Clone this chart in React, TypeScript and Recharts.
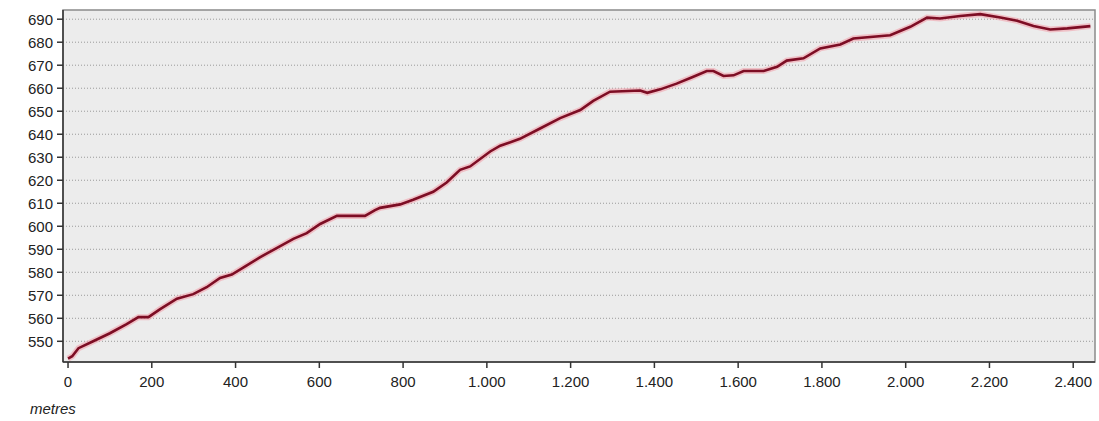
import { LineChart, Line, XAxis, YAxis, CartesianGrid, ReferenceArea } from "recharts";

const FONT = '"Liberation Sans", Arial, sans-serif';

// distance along the route (m) and elevation (m)
const DISTANCE = [
  0, 10, 25, 60, 100, 140, 168, 192, 220, 260, 299, 331, 363, 391, 427, 458, 498, 538, 570, 602,
  642, 709, 733, 745, 793, 824, 872, 904, 936, 960, 1008, 1032, 1079, 1127, 1175, 1223, 1254, 1294,
  1366, 1383, 1414, 1453, 1493, 1525, 1541, 1565, 1589, 1613, 1661, 1693, 1716, 1756, 1796, 1844,
  1875, 1963, 2011, 2051, 2082, 2130, 2178, 2226, 2266, 2305, 2345, 2386, 2441,
];
const ELEVATION = [
  542.5, 543.5, 547, 550, 553.5, 557.5, 560.5, 560.5, 564, 568.5, 570.5, 573.5, 577.5, 579, 583,
  586.5, 590.5, 594.5, 597, 601, 604.5, 604.5, 607, 608, 609.5, 611.5, 615, 619, 624.5, 626, 632.5,
  635, 638, 642.5, 647, 650.5, 654.5, 658.5, 659, 658, 659.5, 662, 665, 667.5, 667.5, 665.3, 665.6,
  667.5, 667.5, 669.3, 672, 673, 677.3, 679, 681.6, 683, 686.7, 690.7, 690.3, 691.4, 692.2, 690.7,
  689.3, 687, 685.5, 686, 687,
];

const X_TICKS = [0, 200, 400, 600, 800, 1000, 1200, 1400, 1600, 1800, 2000, 2200, 2400];
const Y_TICKS = [550, 560, 570, 580, 590, 600, 610, 620, 630, 640, 650, 660, 670, 680, 690];
const X_DOMAIN = [-12, 2452];
const Y_DOMAIN = [541, 694];

const data = DISTANCE.map((d, i) => ({ d, elev: ELEVATION[i] }));

const formatThousands = (v: number) => {
  if (v < 1000) return String(v);
  const s = String(v);
  return s.slice(0, s.length - 3) + "." + s.slice(s.length - 3);
};

const tickStyle = { fill: "#222", fontSize: 15, fontFamily: FONT };

export default function App() {
  return (
    <div style={{ position: "absolute", left: 0, top: 0, width: 1099, height: 421, background: "#fff" }}>
      <LineChart width={1099} height={421} data={data} margin={{ top: 10, right: 4, left: 0, bottom: 29 }}>
        <CartesianGrid
          vertical={false}
          fill="#ececec"
          stroke="#9a9a9a"
          strokeDasharray="1 2"
          horizontalValues={Y_TICKS}
        />
        <ReferenceArea
          x1={X_DOMAIN[0]}
          x2={X_DOMAIN[1]}
          y1={Y_DOMAIN[0]}
          y2={Y_DOMAIN[1]}
          fill="none"
          stroke="#8a8a8a"
          strokeWidth={1.5}
        />
        <XAxis
          dataKey="d"
          type="number"
          domain={X_DOMAIN}
          ticks={X_TICKS}
          allowDataOverflow
          height={30}
          tickFormatter={formatThousands}
          tick={tickStyle}
          tickSize={6}
          tickMargin={8}
          stroke="#333"
          axisLine={{ stroke: "#333", strokeWidth: 1.5 }}
          tickLine={{ stroke: "#333", strokeWidth: 1.5 }}
          interval={0}
        />
        <YAxis
          type="number"
          domain={Y_DOMAIN}
          ticks={Y_TICKS}
          allowDataOverflow
          width={63}
          tick={tickStyle}
          tickSize={6}
          tickMargin={4}
          stroke="#333"
          axisLine={{ stroke: "#333", strokeWidth: 1.5 }}
          tickLine={{ stroke: "#333", strokeWidth: 1.5 }}
          interval={0}
        />
        <Line
          type="linear"
          dataKey="elev"
          stroke="#f2a3ad"
          strokeOpacity={0.6}
          strokeWidth={6}
          dot={false}
          activeDot={false}
          isAnimationActive={false}
        />
        <Line
          type="linear"
          dataKey="elev"
          stroke="#7d0d24"
          strokeWidth={2.6}
          dot={false}
          activeDot={false}
          isAnimationActive={false}
        />
      </LineChart>
      <div
        style={{
          position: "absolute",
          left: 30,
          top: 400,
          fontFamily: FONT,
          fontStyle: "italic",
          fontSize: 15,
          color: "#222",
        }}
      >
        metres
      </div>
    </div>
  );
}
